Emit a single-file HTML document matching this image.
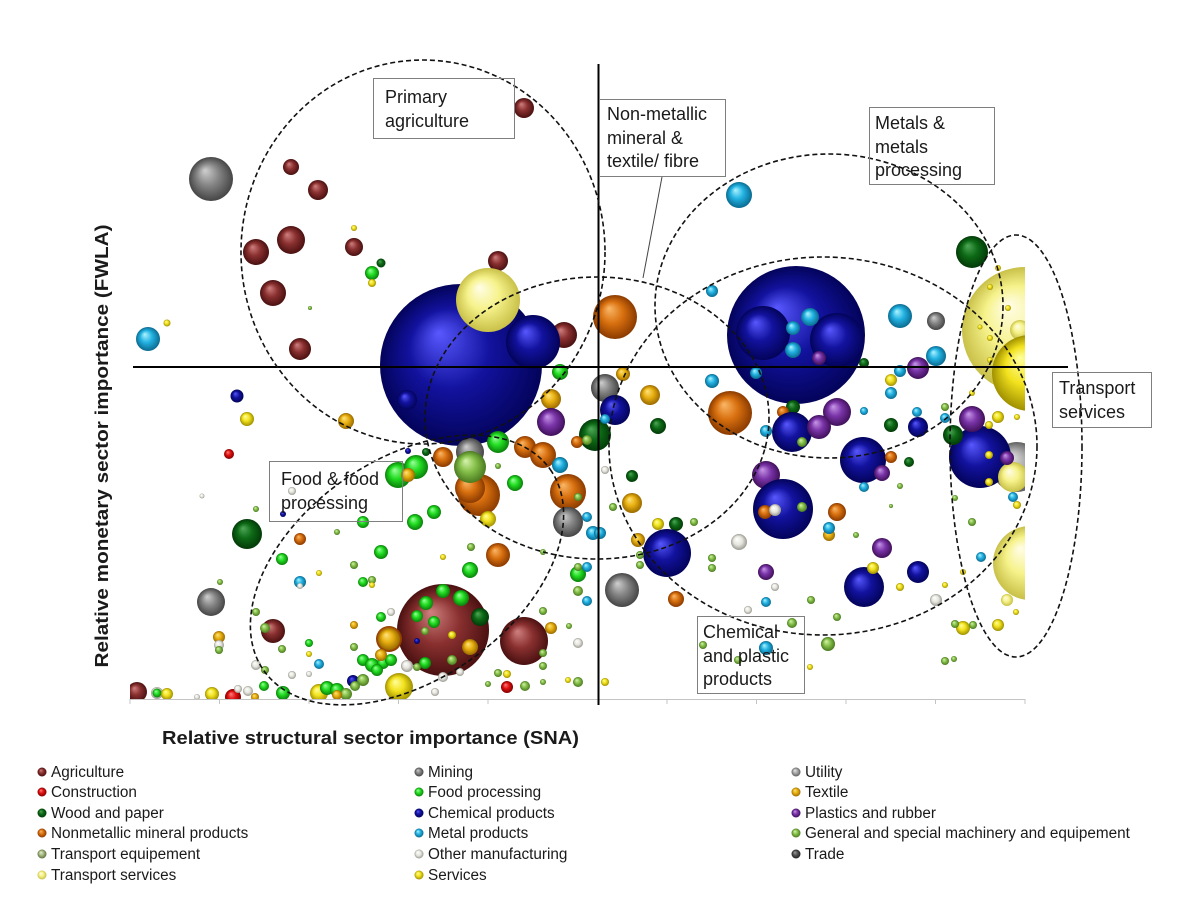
<!DOCTYPE html>
<html><head><meta charset="utf-8"><style>
html,body{margin:0;padding:0;background:#fff;}
svg{display:block;}
text{font-family:"Liberation Sans",Arial,sans-serif;fill:#1a1a1a;}
</style></head><body>
<svg width="1200" height="900" viewBox="0 0 1200 900" xmlns="http://www.w3.org/2000/svg">
<defs>
<radialGradient id="ag" cx="0.5" cy="0.5" r="0.5" fx="0.36" fy="0.3"><stop offset="0" stop-color="#d08080"/><stop offset="0.5" stop-color="#8a3030"/><stop offset="1" stop-color="#4a1010"/></radialGradient>
<radialGradient id="con" cx="0.5" cy="0.5" r="0.5" fx="0.36" fy="0.3"><stop offset="0" stop-color="#ff8080"/><stop offset="0.5" stop-color="#e01010"/><stop offset="1" stop-color="#800000"/></radialGradient>
<radialGradient id="wood" cx="0.5" cy="0.5" r="0.5" fx="0.36" fy="0.3"><stop offset="0" stop-color="#50a858"/><stop offset="0.5" stop-color="#0d6a16"/><stop offset="1" stop-color="#033a08"/></radialGradient>
<radialGradient id="nonm" cx="0.5" cy="0.5" r="0.5" fx="0.36" fy="0.3"><stop offset="0" stop-color="#fbb868"/><stop offset="0.5" stop-color="#d8700f"/><stop offset="1" stop-color="#8a3a00"/></radialGradient>
<radialGradient id="tsv" cx="0.5" cy="0.5" r="0.5" fx="0.36" fy="0.3"><stop offset="0" stop-color="#fffde8"/><stop offset="0.5" stop-color="#f6f28a"/><stop offset="1" stop-color="#c8c048"/></radialGradient>
<radialGradient id="min" cx="0.5" cy="0.5" r="0.5" fx="0.36" fy="0.3"><stop offset="0" stop-color="#d0d0d0"/><stop offset="0.5" stop-color="#858585"/><stop offset="1" stop-color="#454545"/></radialGradient>
<radialGradient id="food" cx="0.5" cy="0.5" r="0.5" fx="0.36" fy="0.3"><stop offset="0" stop-color="#a0ffa0"/><stop offset="0.5" stop-color="#22dd22"/><stop offset="1" stop-color="#0a800a"/></radialGradient>
<radialGradient id="chem" cx="0.5" cy="0.5" r="0.5" fx="0.36" fy="0.3"><stop offset="0" stop-color="#5858ff"/><stop offset="0.5" stop-color="#12129e"/><stop offset="1" stop-color="#03035a"/></radialGradient>
<radialGradient id="met" cx="0.5" cy="0.5" r="0.5" fx="0.36" fy="0.3"><stop offset="0" stop-color="#b0f4ff"/><stop offset="0.5" stop-color="#22b2e2"/><stop offset="1" stop-color="#0a6a90"/></radialGradient>
<radialGradient id="oth" cx="0.5" cy="0.5" r="0.5" fx="0.36" fy="0.3"><stop offset="0" stop-color="#ffffff"/><stop offset="0.55" stop-color="#e6e6de"/><stop offset="1" stop-color="#9a9a92"/></radialGradient>
<radialGradient id="srv" cx="0.5" cy="0.5" r="0.5" fx="0.36" fy="0.3"><stop offset="0" stop-color="#ffffa0"/><stop offset="0.5" stop-color="#f2e21e"/><stop offset="1" stop-color="#a09000"/></radialGradient>
<radialGradient id="uti" cx="0.5" cy="0.5" r="0.5" fx="0.36" fy="0.3"><stop offset="0" stop-color="#e8e8e8"/><stop offset="0.5" stop-color="#a8a8a8"/><stop offset="1" stop-color="#606060"/></radialGradient>
<radialGradient id="tex" cx="0.5" cy="0.5" r="0.5" fx="0.36" fy="0.3"><stop offset="0" stop-color="#ffe480"/><stop offset="0.5" stop-color="#e8b010"/><stop offset="1" stop-color="#9a6a00"/></radialGradient>
<radialGradient id="pla" cx="0.5" cy="0.5" r="0.5" fx="0.36" fy="0.3"><stop offset="0" stop-color="#c898e8"/><stop offset="0.5" stop-color="#7a34a8"/><stop offset="1" stop-color="#40105a"/></radialGradient>
<radialGradient id="mac" cx="0.5" cy="0.5" r="0.5" fx="0.36" fy="0.3"><stop offset="0" stop-color="#d8f4b0"/><stop offset="0.5" stop-color="#86c04a"/><stop offset="1" stop-color="#4a7a20"/></radialGradient>
<radialGradient id="teq" cx="0.5" cy="0.5" r="0.5" fx="0.36" fy="0.3"><stop offset="0" stop-color="#e4f0d0"/><stop offset="0.5" stop-color="#a8bc84"/><stop offset="1" stop-color="#607040"/></radialGradient>
<radialGradient id="trd" cx="0.5" cy="0.5" r="0.5" fx="0.36" fy="0.3"><stop offset="0" stop-color="#a0a0a0"/><stop offset="0.5" stop-color="#555555"/><stop offset="1" stop-color="#202020"/></radialGradient>
<clipPath id="plot"><rect x="130" y="0" width="895" height="700"/></clipPath>
</defs>

<g clip-path="url(#plot)">
<circle cx="564" cy="335" r="13" fill="url(#ag)"/>
<circle cx="461" cy="365" r="81" fill="url(#chem)"/>
<circle cx="407" cy="400" r="10" fill="url(#chem)"/>
<circle cx="533" cy="342" r="27" fill="url(#chem)"/>
<circle cx="498" cy="261" r="10" fill="url(#ag)"/>
<circle cx="488" cy="300" r="32" fill="url(#tsv)"/>
<circle cx="443" cy="630" r="46" fill="url(#ag)"/>
<circle cx="1025" cy="330" r="63" fill="url(#tsv)"/>
<circle cx="1020" cy="330" r="10" fill="url(#tsv)"/>
<circle cx="1030" cy="373" r="38" fill="url(#srv)"/>
<circle cx="796" cy="335" r="69" fill="url(#chem)"/>
<circle cx="763" cy="333" r="27" fill="url(#chem)"/>
<circle cx="837" cy="340" r="27" fill="url(#chem)"/>
<circle cx="1030" cy="563" r="37" fill="url(#tsv)"/>
<circle cx="1017" cy="467" r="25" fill="url(#uti)"/>
<circle cx="980" cy="457" r="31" fill="url(#chem)"/>
<circle cx="1013" cy="477" r="15" fill="url(#tsv)"/>

<circle cx="211" cy="179" r="22" fill="url(#min)"/>
<circle cx="524" cy="108" r="10" fill="url(#ag)"/>
<circle cx="291" cy="167" r="8" fill="url(#ag)"/>
<circle cx="318" cy="190" r="10" fill="url(#ag)"/>
<circle cx="291" cy="240" r="14" fill="url(#ag)"/>
<circle cx="256" cy="252" r="13" fill="url(#ag)"/>
<circle cx="354" cy="247" r="9" fill="url(#ag)"/>
<circle cx="354" cy="228" r="3" fill="url(#srv)"/>
<circle cx="381" cy="263" r="4.5" fill="url(#wood)"/>
<circle cx="372" cy="273" r="7" fill="url(#food)"/>
<circle cx="372" cy="283" r="4" fill="url(#srv)"/>
<circle cx="273" cy="293" r="13" fill="url(#ag)"/>
<circle cx="310" cy="308" r="2" fill="url(#mac)"/>
<circle cx="148" cy="339" r="12" fill="url(#met)"/>
<circle cx="167" cy="323" r="3.5" fill="url(#srv)"/>
<circle cx="300" cy="349" r="11" fill="url(#ag)"/>

<circle cx="615" cy="317" r="22" fill="url(#nonm)"/>
<circle cx="560" cy="372" r="8" fill="url(#food)"/>
<circle cx="551" cy="399" r="10" fill="url(#tex)"/>
<circle cx="551" cy="422" r="14" fill="url(#pla)"/>
<circle cx="595" cy="435" r="16" fill="url(#wood)"/>
<circle cx="577" cy="442" r="6" fill="url(#nonm)"/>
<circle cx="587" cy="440" r="5" fill="url(#mac)"/>
<circle cx="605" cy="388" r="14" fill="url(#min)"/>
<circle cx="615" cy="410" r="15" fill="url(#chem)"/>
<circle cx="605" cy="419" r="5" fill="url(#met)"/>
<circle cx="623" cy="374" r="7" fill="url(#tex)"/>

<circle cx="237" cy="396" r="6.5" fill="url(#chem)"/>
<circle cx="247" cy="419" r="7" fill="url(#srv)"/>
<circle cx="229" cy="454" r="5" fill="url(#con)"/>
<circle cx="346" cy="421" r="8" fill="url(#tex)"/>
<circle cx="202" cy="496" r="2.5" fill="url(#oth)"/>
<circle cx="256" cy="509" r="3" fill="url(#mac)"/>
<circle cx="247" cy="534" r="15" fill="url(#wood)"/>
<circle cx="292" cy="491" r="4" fill="url(#oth)"/>
<circle cx="283" cy="514" r="3" fill="url(#chem)"/>
<circle cx="408" cy="451" r="3" fill="url(#chem)"/>
<circle cx="426" cy="452" r="4" fill="url(#wood)"/>
<circle cx="443" cy="457" r="10" fill="url(#nonm)"/>
<circle cx="398" cy="475" r="13" fill="url(#food)"/>
<circle cx="416" cy="467" r="12" fill="url(#food)"/>
<circle cx="408" cy="475" r="7" fill="url(#tex)"/>
<circle cx="498" cy="442" r="11" fill="url(#food)"/>
<circle cx="470" cy="452" r="14" fill="url(#min)"/>
<circle cx="479" cy="495" r="21" fill="url(#nonm)"/>
<circle cx="470" cy="488" r="15" fill="url(#nonm)"/>
<circle cx="470" cy="467" r="16" fill="url(#mac)"/>
<circle cx="488" cy="519" r="8" fill="url(#srv)"/>
<circle cx="515" cy="483" r="8" fill="url(#food)"/>
<circle cx="498" cy="466" r="3" fill="url(#mac)"/>
<circle cx="525" cy="447" r="11" fill="url(#nonm)"/>
<circle cx="543" cy="455" r="13" fill="url(#nonm)"/>
<circle cx="560" cy="465" r="8" fill="url(#met)"/>
<circle cx="568" cy="492" r="18" fill="url(#nonm)"/>
<circle cx="578" cy="497" r="4" fill="url(#mac)"/>
<circle cx="568" cy="522" r="15" fill="url(#min)"/>
<circle cx="593" cy="533" r="7" fill="url(#met)"/>
<circle cx="587" cy="517" r="5" fill="url(#met)"/>
<circle cx="415" cy="522" r="8" fill="url(#food)"/>
<circle cx="434" cy="512" r="7" fill="url(#food)"/>
<circle cx="363" cy="522" r="6" fill="url(#food)"/>
<circle cx="337" cy="532" r="3" fill="url(#mac)"/>
<circle cx="300" cy="539" r="6" fill="url(#nonm)"/>
<circle cx="282" cy="559" r="6" fill="url(#food)"/>
<circle cx="381" cy="552" r="7" fill="url(#food)"/>
<circle cx="354" cy="565" r="4" fill="url(#mac)"/>
<circle cx="319" cy="573" r="3" fill="url(#srv)"/>
<circle cx="300" cy="582" r="6" fill="url(#met)"/>
<circle cx="300" cy="586" r="3" fill="url(#oth)"/>
<circle cx="363" cy="582" r="5" fill="url(#food)"/>
<circle cx="372" cy="580" r="4" fill="url(#mac)"/>
<circle cx="372" cy="585" r="3" fill="url(#srv)"/>
<circle cx="471" cy="547" r="4" fill="url(#mac)"/>
<circle cx="443" cy="557" r="3" fill="url(#srv)"/>
<circle cx="498" cy="555" r="12" fill="url(#nonm)"/>
<circle cx="470" cy="570" r="8" fill="url(#food)"/>
<circle cx="543" cy="552" r="3" fill="url(#mac)"/>
<circle cx="578" cy="574" r="8" fill="url(#food)"/>
<circle cx="587" cy="567" r="5" fill="url(#met)"/>
<circle cx="578" cy="567" r="4" fill="url(#mac)"/>
<circle cx="211" cy="602" r="14" fill="url(#min)"/>
<circle cx="220" cy="582" r="3" fill="url(#mac)"/>
<circle cx="578" cy="591" r="5" fill="url(#mac)"/>
<circle cx="587" cy="601" r="5" fill="url(#met)"/>
<circle cx="273" cy="631" r="12" fill="url(#ag)"/>
<circle cx="265" cy="628" r="5" fill="url(#mac)"/>
<circle cx="256" cy="612" r="4" fill="url(#mac)"/>
<circle cx="219" cy="637" r="6" fill="url(#tex)"/>
<circle cx="219" cy="645" r="5" fill="url(#oth)"/>
<circle cx="219" cy="650" r="4" fill="url(#mac)"/>

<circle cx="443" cy="591" r="7" fill="url(#food)"/>
<circle cx="461" cy="598" r="8" fill="url(#food)"/>
<circle cx="426" cy="603" r="7" fill="url(#food)"/>
<circle cx="417" cy="616" r="6" fill="url(#food)"/>
<circle cx="434" cy="622" r="6" fill="url(#food)"/>
<circle cx="480" cy="617" r="9" fill="url(#wood)"/>
<circle cx="425" cy="631" r="4" fill="url(#mac)"/>
<circle cx="452" cy="635" r="4" fill="url(#srv)"/>
<circle cx="470" cy="647" r="8" fill="url(#tex)"/>
<circle cx="425" cy="663" r="6" fill="url(#food)"/>
<circle cx="452" cy="660" r="5" fill="url(#mac)"/>
<circle cx="417" cy="641" r="3" fill="url(#chem)"/>
<circle cx="389" cy="639" r="13" fill="url(#nonm)"/>
<circle cx="389" cy="639" r="11" fill="url(#tex)"/>
<circle cx="381" cy="617" r="5" fill="url(#food)"/>
<circle cx="391" cy="612" r="4" fill="url(#oth)"/>
<circle cx="354" cy="625" r="4" fill="url(#tex)"/>
<circle cx="354" cy="647" r="4" fill="url(#mac)"/>
<circle cx="524" cy="641" r="24" fill="url(#ag)"/>
<circle cx="551" cy="628" r="6" fill="url(#tex)"/>
<circle cx="543" cy="611" r="4" fill="url(#mac)"/>
<circle cx="543" cy="653" r="4" fill="url(#mac)"/>
<circle cx="543" cy="666" r="4" fill="url(#mac)"/>
<circle cx="578" cy="643" r="5" fill="url(#oth)"/>
<circle cx="569" cy="626" r="3" fill="url(#mac)"/>
<circle cx="309" cy="643" r="4" fill="url(#food)"/>
<circle cx="309" cy="654" r="3" fill="url(#srv)"/>
<circle cx="282" cy="649" r="4" fill="url(#mac)"/>
<circle cx="319" cy="664" r="5" fill="url(#met)"/>
<circle cx="363" cy="660" r="6" fill="url(#food)"/>
<circle cx="372" cy="665" r="7" fill="url(#food)"/>
<circle cx="383" cy="663" r="6" fill="url(#food)"/>
<circle cx="391" cy="660" r="6" fill="url(#food)"/>
<circle cx="377" cy="670" r="6" fill="url(#food)"/>
<circle cx="381" cy="655" r="6" fill="url(#tex)"/>
<circle cx="407" cy="666" r="6" fill="url(#oth)"/>
<circle cx="417" cy="667" r="4" fill="url(#mac)"/>
<circle cx="443" cy="677" r="5" fill="url(#oth)"/>
<circle cx="460" cy="672" r="4" fill="url(#oth)"/>
<circle cx="399" cy="687" r="14" fill="url(#srv)"/>
<circle cx="507" cy="674" r="4" fill="url(#srv)"/>
<circle cx="498" cy="673" r="4" fill="url(#mac)"/>
<circle cx="507" cy="687" r="6" fill="url(#con)"/>
<circle cx="488" cy="684" r="3" fill="url(#mac)"/>
<circle cx="525" cy="686" r="5" fill="url(#mac)"/>
<circle cx="543" cy="682" r="3" fill="url(#mac)"/>
<circle cx="578" cy="682" r="5" fill="url(#mac)"/>
<circle cx="568" cy="680" r="3" fill="url(#srv)"/>
<circle cx="435" cy="692" r="4" fill="url(#oth)"/>
<circle cx="353" cy="681" r="6" fill="url(#chem)"/>
<circle cx="363" cy="680" r="6" fill="url(#mac)"/>
<circle cx="355" cy="686" r="5" fill="url(#mac)"/>
<circle cx="292" cy="675" r="4" fill="url(#oth)"/>
<circle cx="309" cy="674" r="3" fill="url(#oth)"/>
<circle cx="256" cy="665" r="5" fill="url(#oth)"/>
<circle cx="265" cy="670" r="4" fill="url(#mac)"/>

<circle cx="137" cy="692" r="10" fill="url(#ag)"/>
<circle cx="157" cy="693" r="6" fill="url(#oth)"/>
<circle cx="157" cy="693" r="4.5" fill="url(#food)"/>
<circle cx="167" cy="694" r="6" fill="url(#srv)"/>
<circle cx="197" cy="697" r="3" fill="url(#oth)"/>
<circle cx="212" cy="694" r="7" fill="url(#srv)"/>
<circle cx="233" cy="697" r="8" fill="url(#con)"/>
<circle cx="238" cy="689" r="4" fill="url(#oth)"/>
<circle cx="248" cy="691" r="5" fill="url(#oth)"/>
<circle cx="255" cy="697" r="4" fill="url(#tex)"/>
<circle cx="264" cy="686" r="5" fill="url(#food)"/>
<circle cx="283" cy="693" r="7" fill="url(#food)"/>
<circle cx="319" cy="693" r="9" fill="url(#srv)"/>
<circle cx="327" cy="688" r="7" fill="url(#food)"/>
<circle cx="337" cy="690" r="7" fill="url(#food)"/>
<circle cx="346" cy="694" r="6" fill="url(#mac)"/>
<circle cx="337" cy="695" r="5" fill="url(#tex)"/>

<circle cx="739" cy="195" r="13" fill="url(#met)"/>
<circle cx="972" cy="252" r="16" fill="url(#wood)"/>
<circle cx="712" cy="291" r="6" fill="url(#met)"/>
<circle cx="810" cy="317" r="9" fill="url(#met)"/>
<circle cx="793" cy="328" r="7" fill="url(#met)"/>
<circle cx="793" cy="350" r="8" fill="url(#met)"/>
<circle cx="819" cy="358" r="7" fill="url(#pla)"/>
<circle cx="864" cy="363" r="5" fill="url(#wood)"/>
<circle cx="756" cy="373" r="6" fill="url(#met)"/>
<circle cx="900" cy="316" r="12" fill="url(#met)"/>
<circle cx="936" cy="321" r="9" fill="url(#min)"/>
<circle cx="936" cy="356" r="10" fill="url(#met)"/>
<circle cx="900" cy="371" r="6" fill="url(#met)"/>
<circle cx="918" cy="368" r="11" fill="url(#pla)"/>
<circle cx="891" cy="380" r="6" fill="url(#srv)"/>
<circle cx="891" cy="393" r="6" fill="url(#met)"/>
<circle cx="712" cy="381" r="7" fill="url(#met)"/>
<circle cx="998" cy="268" r="3" fill="url(#srv)"/>
<circle cx="990" cy="287" r="3" fill="url(#srv)"/>
<circle cx="1008" cy="308" r="3" fill="url(#srv)"/>
<circle cx="980" cy="327" r="2.5" fill="url(#srv)"/>
<circle cx="990" cy="338" r="3" fill="url(#srv)"/>
<circle cx="990" cy="360" r="3" fill="url(#srv)"/>
<circle cx="972" cy="393" r="3" fill="url(#srv)"/>

<circle cx="650" cy="395" r="10" fill="url(#tex)"/>
<circle cx="658" cy="426" r="8" fill="url(#wood)"/>
<circle cx="730" cy="413" r="22" fill="url(#nonm)"/>
<circle cx="793" cy="407" r="7" fill="url(#wood)"/>
<circle cx="783" cy="412" r="6" fill="url(#nonm)"/>
<circle cx="792" cy="432" r="20" fill="url(#chem)"/>
<circle cx="802" cy="442" r="5" fill="url(#mac)"/>
<circle cx="766" cy="431" r="6" fill="url(#met)"/>
<circle cx="837" cy="412" r="14" fill="url(#pla)"/>
<circle cx="819" cy="427" r="12" fill="url(#pla)"/>
<circle cx="864" cy="411" r="4" fill="url(#met)"/>
<circle cx="891" cy="425" r="7" fill="url(#wood)"/>
<circle cx="917" cy="412" r="5" fill="url(#met)"/>
<circle cx="918" cy="427" r="10" fill="url(#chem)"/>
<circle cx="863" cy="460" r="23" fill="url(#chem)"/>
<circle cx="891" cy="457" r="6" fill="url(#nonm)"/>
<circle cx="882" cy="473" r="8" fill="url(#pla)"/>
<circle cx="864" cy="487" r="5" fill="url(#met)"/>
<circle cx="909" cy="462" r="5" fill="url(#wood)"/>
<circle cx="900" cy="486" r="3" fill="url(#mac)"/>
<circle cx="891" cy="506" r="2" fill="url(#mac)"/>
<circle cx="766" cy="475" r="14" fill="url(#pla)"/>
<circle cx="783" cy="509" r="30" fill="url(#chem)"/>
<circle cx="765" cy="512" r="7" fill="url(#nonm)"/>
<circle cx="775" cy="510" r="6" fill="url(#oth)"/>
<circle cx="802" cy="507" r="5" fill="url(#mac)"/>
<circle cx="837" cy="512" r="9" fill="url(#nonm)"/>
<circle cx="829" cy="535" r="6" fill="url(#tex)"/>
<circle cx="829" cy="528" r="6" fill="url(#met)"/>
<circle cx="856" cy="535" r="3" fill="url(#mac)"/>
<circle cx="882" cy="548" r="10" fill="url(#pla)"/>
<circle cx="605" cy="470" r="4" fill="url(#oth)"/>
<circle cx="632" cy="476" r="6" fill="url(#wood)"/>
<circle cx="632" cy="503" r="10" fill="url(#tex)"/>
<circle cx="613" cy="507" r="4" fill="url(#mac)"/>
<circle cx="600" cy="533" r="6" fill="url(#met)"/>
<circle cx="658" cy="524" r="6" fill="url(#srv)"/>
<circle cx="676" cy="524" r="7" fill="url(#wood)"/>
<circle cx="694" cy="522" r="4" fill="url(#mac)"/>
<circle cx="638" cy="540" r="7" fill="url(#tex)"/>
<circle cx="667" cy="553" r="24" fill="url(#chem)"/>
<circle cx="640" cy="555" r="4" fill="url(#mac)"/>
<circle cx="640" cy="565" r="4" fill="url(#mac)"/>
<circle cx="739" cy="542" r="8" fill="url(#oth)"/>
<circle cx="712" cy="558" r="4" fill="url(#mac)"/>
<circle cx="712" cy="568" r="4" fill="url(#mac)"/>
<circle cx="622" cy="590" r="17" fill="url(#min)"/>
<circle cx="676" cy="599" r="8" fill="url(#nonm)"/>
<circle cx="766" cy="572" r="8" fill="url(#pla)"/>
<circle cx="775" cy="587" r="4" fill="url(#oth)"/>
<circle cx="766" cy="602" r="5" fill="url(#met)"/>
<circle cx="748" cy="610" r="4" fill="url(#oth)"/>
<circle cx="811" cy="600" r="4" fill="url(#mac)"/>
<circle cx="837" cy="617" r="4" fill="url(#mac)"/>
<circle cx="792" cy="623" r="5" fill="url(#mac)"/>
<circle cx="828" cy="644" r="7" fill="url(#mac)"/>
<circle cx="766" cy="648" r="7" fill="url(#met)"/>
<circle cx="703" cy="645" r="4" fill="url(#mac)"/>
<circle cx="738" cy="660" r="4" fill="url(#mac)"/>
<circle cx="810" cy="667" r="3" fill="url(#srv)"/>
<circle cx="605" cy="682" r="4" fill="url(#srv)"/>
<circle cx="864" cy="587" r="20" fill="url(#chem)"/>
<circle cx="873" cy="568" r="6" fill="url(#srv)"/>
<circle cx="918" cy="572" r="11" fill="url(#chem)"/>
<circle cx="900" cy="587" r="4" fill="url(#srv)"/>
<circle cx="936" cy="600" r="6" fill="url(#oth)"/>
<circle cx="972" cy="522" r="4" fill="url(#mac)"/>
<circle cx="981" cy="557" r="5" fill="url(#met)"/>
<circle cx="963" cy="572" r="3" fill="url(#srv)"/>
<circle cx="945" cy="585" r="3" fill="url(#srv)"/>
<circle cx="963" cy="628" r="7" fill="url(#srv)"/>
<circle cx="955" cy="624" r="4" fill="url(#mac)"/>
<circle cx="973" cy="625" r="4" fill="url(#mac)"/>
<circle cx="998" cy="625" r="6" fill="url(#srv)"/>
<circle cx="1007" cy="600" r="6" fill="url(#tsv)"/>
<circle cx="1016" cy="612" r="3" fill="url(#srv)"/>
<circle cx="945" cy="661" r="4" fill="url(#mac)"/>
<circle cx="954" cy="659" r="3" fill="url(#mac)"/>
<circle cx="953" cy="435" r="10" fill="url(#wood)"/>
<circle cx="972" cy="419" r="13" fill="url(#pla)"/>
<circle cx="989" cy="455" r="4" fill="url(#srv)"/>
<circle cx="989" cy="482" r="4" fill="url(#srv)"/>
<circle cx="998" cy="417" r="6" fill="url(#srv)"/>
<circle cx="989" cy="425" r="4" fill="url(#srv)"/>
<circle cx="1007" cy="458" r="7" fill="url(#pla)"/>
<circle cx="1013" cy="497" r="5" fill="url(#met)"/>
<circle cx="1017" cy="505" r="4" fill="url(#srv)"/>
<circle cx="955" cy="498" r="3" fill="url(#mac)"/>
<circle cx="945" cy="418" r="5" fill="url(#met)"/>
<circle cx="945" cy="407" r="4" fill="url(#mac)"/>
<circle cx="1017" cy="417" r="3" fill="url(#srv)"/>
</g>

<g stroke="#c4c4c4" stroke-width="1">
<line x1="130" y1="699.5" x2="1025" y2="699.5"/>
<line x1="130" y1="699" x2="130" y2="704"/>
<line x1="219.5" y1="699" x2="219.5" y2="704"/>
<line x1="309" y1="699" x2="309" y2="704"/>
<line x1="398.5" y1="699" x2="398.5" y2="704"/>
<line x1="488" y1="699" x2="488" y2="704"/>
<line x1="667" y1="699" x2="667" y2="704"/>
<line x1="756.5" y1="699" x2="756.5" y2="704"/>
<line x1="846" y1="699" x2="846" y2="704"/>
<line x1="935.5" y1="699" x2="935.5" y2="704"/>
<line x1="1025" y1="699" x2="1025" y2="704"/>
</g>

<line x1="133" y1="367" x2="1068" y2="367" stroke="#000" stroke-width="2"/>
<line x1="598.5" y1="64" x2="598.5" y2="705" stroke="#000" stroke-width="2"/>

<g fill="none" stroke="#111" stroke-width="1.6" stroke-dasharray="5,3">
<ellipse cx="423" cy="252" rx="182" ry="192"/>
<ellipse cx="597" cy="418" rx="172" ry="141"/>
<ellipse cx="829" cy="306" rx="174" ry="152"/>
<ellipse cx="823" cy="446" rx="214" ry="189"/>
<ellipse cx="1016" cy="446" rx="66" ry="211"/>
<ellipse cx="407" cy="570" rx="175" ry="110" transform="rotate(-35 407 570)"/>
</g>

<g fill="none" stroke="#7f7f7f" stroke-width="1">
<rect x="373.5" y="78.5" width="141" height="60"/>
<rect x="599.5" y="99.5" width="126" height="77"/>
<rect x="869.5" y="107.5" width="125" height="77"/>
<rect x="1052.5" y="372.5" width="99" height="55"/>
<rect x="269.5" y="461.5" width="133" height="60"/>
<rect x="697.5" y="616.5" width="107" height="77"/>
</g>
<line x1="662" y1="177" x2="643" y2="278" stroke="#444" stroke-width="1"/>

<g font-size="18">
<text x="385" y="103">Primary</text>
<text x="385" y="127">agriculture</text>
<text x="607" y="120">Non-metallic</text>
<text x="607" y="144">mineral &amp;</text>
<text x="607" y="167">textile/ fibre</text>
<text x="875" y="129">Metals &amp;</text>
<text x="875" y="153">metals</text>
<text x="875" y="176">processing</text>
<text x="1059" y="394">Transport</text>
<text x="1059" y="418">services</text>
<text x="281" y="485">Food &amp; food</text>
<text x="281" y="509">processing</text>
<text x="703" y="638">Chemical</text>
<text x="703" y="662">and plastic</text>
<text x="703" y="685">products</text>
</g>

<text x="162" y="744" font-size="18" font-weight="bold" textLength="417" lengthAdjust="spacingAndGlyphs" fill="#000">Relative structural sector importance (SNA)</text>
<text transform="translate(108 446) rotate(-90)" text-anchor="middle" font-size="18" font-weight="bold" textLength="443" lengthAdjust="spacingAndGlyphs" fill="#000">Relative  monetary  sector importance (FWLA)</text>

<g>
<circle cx="42" cy="772" r="4.5" fill="url(#ag)"/>
<circle cx="42" cy="792" r="4.5" fill="url(#con)"/>
<circle cx="42" cy="813" r="4.5" fill="url(#wood)"/>
<circle cx="42" cy="833" r="4.5" fill="url(#nonm)"/>
<circle cx="42" cy="854" r="4.5" fill="url(#teq)"/>
<circle cx="42" cy="875" r="4.5" fill="url(#tsv)"/>
<circle cx="419" cy="772" r="4.5" fill="url(#min)"/>
<circle cx="419" cy="792" r="4.5" fill="url(#food)"/>
<circle cx="419" cy="813" r="4.5" fill="url(#chem)"/>
<circle cx="419" cy="833" r="4.5" fill="url(#met)"/>
<circle cx="419" cy="854" r="4.5" fill="url(#oth)"/>
<circle cx="419" cy="875" r="4.5" fill="url(#srv)"/>
<circle cx="796" cy="772" r="4.5" fill="url(#uti)"/>
<circle cx="796" cy="792" r="4.5" fill="url(#tex)"/>
<circle cx="796" cy="813" r="4.5" fill="url(#pla)"/>
<circle cx="796" cy="833" r="4.5" fill="url(#mac)"/>
<circle cx="796" cy="854" r="4.5" fill="url(#trd)"/>
</g>
<g font-size="15.3">
<text x="51" y="777">Agriculture</text>
<text x="51" y="797">Construction</text>
<text x="51" y="818">Wood and paper</text>
<text x="51" y="838">Nonmetallic mineral products</text>
<text x="51" y="859">Transport equipement</text>
<text x="51" y="880">Transport services</text>
<text x="428" y="777">Mining</text>
<text x="428" y="797">Food processing</text>
<text x="428" y="818">Chemical products</text>
<text x="428" y="838">Metal products</text>
<text x="428" y="859">Other manufacturing</text>
<text x="428" y="880">Services</text>
<text x="805" y="777">Utility</text>
<text x="805" y="797">Textile</text>
<text x="805" y="818">Plastics and rubber</text>
<text x="805" y="838">General and special machinery and equipement</text>
<text x="805" y="859">Trade</text>
</g>
</svg>
</body></html>
